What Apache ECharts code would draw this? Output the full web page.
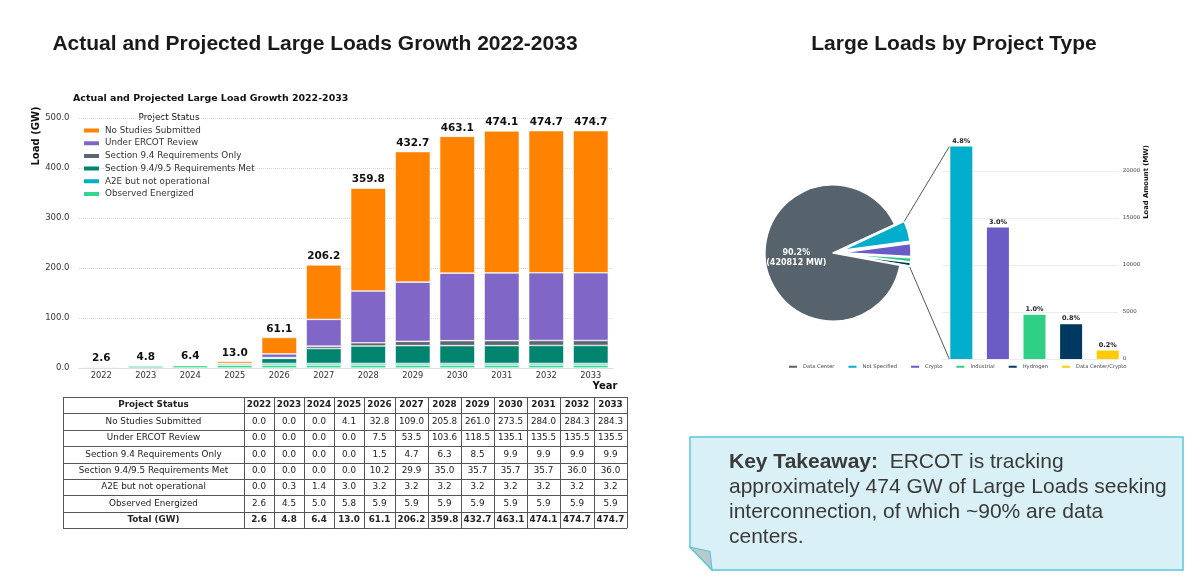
<!DOCTYPE html>
<html>
<head>
<meta charset="utf-8">
<script src="https://cdn.jsdelivr.net/npm/echarts@6/dist/echarts.min.js"></script>
<style>
html,body{margin:0;padding:0;background:#fff}
#main{width:1200px;height:582px}
</style>
</head>
<body>
<div id="main"></div>
<script>
// ---- data: large load growth by project status (GW) ----
var years = ['2022','2023','2024','2025','2026','2027','2028','2029','2030','2031','2032','2033'];
var statusNames = ['No Studies Submitted','Under ERCOT Review','Section 9.4 Requirements Only',
  'Section 9.4/9.5 Requirements Met','A2E but not operational','Observed Energized'];
var noStudies   = [0.0,0.0,0.0,4.1,32.8,109.0,205.8,261.0,273.5,284.0,284.3,284.3];
var underReview = [0.0,0.0,0.0,0.0,7.5,53.5,103.6,118.5,135.1,135.5,135.5,135.5];
var sec94       = [0.0,0.0,0.0,0.0,1.5,4.7,6.3,8.5,9.9,9.9,9.9,9.9];
var sec945      = [0.0,0.0,0.0,0.0,10.2,29.9,35.0,35.7,35.7,35.7,36.0,36.0];
var a2e         = [0.0,0.3,1.4,3.0,3.2,3.2,3.2,3.2,3.2,3.2,3.2,3.2];
var energized   = [2.6,4.5,5.0,5.8,5.9,5.9,5.9,5.9,5.9,5.9,5.9,5.9];
var totals      = [2.6,4.8,6.4,13.0,61.1,206.2,359.8,432.7,463.1,474.1,474.7,474.7];

// ---- data: large loads by project type (MW) ----
var typeNames = ['Data Center','Not Specified','Crypto','Industrial','Hydrogen','Data Center/Crypto'];
var typeMW    = [420812, 22600, 14000, 4700, 3700, 900];

// styles
var statusColors = ['#FF8200','#7F66C7','#5B6770','#00836F','#00AEC7','#34D68C'];
var typeColors   = ['#56636C','#00AECB','#6B5BC6','#2ECF84','#00395F','#FFCC00'];
var statusData = [noStudies, underReview, sec94, sec945, a2e, energized];
var typeTotal = typeMW.reduce(function (a, b) { return a + b; }, 0);
function pct(v) { return (v / typeTotal * 100).toFixed(1) + '%'; }

var chart = echarts.init(document.getElementById('main'));

// stacked bars, bottom segment first
var series = [];
for (var i = statusNames.length - 1; i >= 0; i--) {
  series.push({
    name: statusNames[i], type: 'bar', stack: 'load',
    xAxisIndex: 0, yAxisIndex: 0, barCategoryGap: '21%',
    data: statusData[i],
    itemStyle: { color: statusColors[i], borderColor: '#fff', borderWidth: 0.6 },
    emphasis: { disabled: true },
    label: i === 0 ? {
      show: true, position: 'top', distance: 3,
      formatter: function (p) { return totals[p.dataIndex].toFixed(1); },
      fontFamily: 'DejaVu Sans', fontWeight: 'bold', fontSize: 10.5, color: '#111'
    } : { show: false }
  });
}

// pie: small types first so they sit on the right, exploded
var pieOrder = [1, 2, 3, 4, 5, 0];
var pieStart = 25, pieCenter = [833, 253], pieR = 68, pieOff = 10;
series.push({
  type: 'pie', center: pieCenter, radius: pieR, startAngle: pieStart, clockwise: true,
  selectedMode: 'multiple', selectedOffset: pieOff, avoidLabelOverlap: false,
  emphasis: { disabled: true },
  itemStyle: { borderColor: '#fff', borderWidth: 1.4 },
  select: { itemStyle: { borderColor: '#fff', borderWidth: 1.4 } },
  label: { show: false }, labelLine: { show: false },
  data: pieOrder.map(function (k) {
    var d = { name: typeNames[k], value: typeMW[k], itemStyle: { color: typeColors[k] } };
    if (k === 0) {
      d.label = {
        show: true, position: 'inside', color: '#fff', fontFamily: 'DejaVu Sans',
        fontWeight: 'bold', fontSize: 8, lineHeight: 9.5,
        formatter: function (p) { return pct(p.value) + '\n(' + p.value + ' MW)'; }
      };
    } else {
      d.selected = true;
    }
    return d;
  })
});

// bars of the small types
series.push({
  type: 'bar', xAxisIndex: 1, yAxisIndex: 1, barWidth: 22,
  emphasis: { disabled: true },
  data: typeNames.slice(1).map(function (n, j) {
    return { name: n, value: [j, typeMW[j + 1]], itemStyle: { color: typeColors[j + 1] } };
  }),
  label: {
    show: true, position: 'top', distance: 2, fontFamily: 'DejaVu Sans',
    fontWeight: 'bold', fontSize: 6.5, color: '#222',
    formatter: function (p) { return pct(p.value[1]); }
  }
});

// ---- table ----
var colW = [181,30,30,30,30,31,33,33,33,33,33,34,33];
var tX0 = 63, tY0 = 397, rowH = 16.4;
var tableRows = [['Project Status'].concat(years)];
statusNames.forEach(function (n, r) {
  tableRows.push([n].concat(statusData[r].map(function (v) { return v.toFixed(1); })));
});
tableRows.push(['Total (GW)'].concat(totals.map(function (v) { return v.toFixed(1); })));

var graphics = [];
var colX = [tX0];
colW.forEach(function (w) { colX.push(colX[colX.length - 1] + w); });
var tBottom = tY0 + rowH * tableRows.length;
tableRows.forEach(function (row, r) {
  row.forEach(function (cell, c) {
    var bold = (r === 0 || r === tableRows.length - 1);
    graphics.push({
      type: 'text', silent: true,
      x: (colX[c] + colX[c + 1]) / 2, y: tY0 + rowH * (r + 0.5),
      style: {
        text: cell, fill: '#222', fontFamily: 'DejaVu Sans', fontSize: 8.8,
        fontWeight: bold ? 'bold' : 'normal',
        textAlign: 'center', align: 'center', textVerticalAlign: 'middle', verticalAlign: 'middle'
      }
    });
  });
});
for (var r = 0; r <= tableRows.length; r++) {
  var yy = Math.round(tY0 + rowH * r) + 0.5;
  graphics.push({ type: 'line', silent: true, shape: { x1: colX[0], y1: yy, x2: colX[colX.length - 1], y2: yy },
    style: { stroke: '#555', lineWidth: 1 } });
}
colX.forEach(function (x) {
  var xx = Math.round(x) + 0.5;
  graphics.push({ type: 'line', silent: true, shape: { x1: xx, y1: tY0, x2: xx, y2: tBottom },
    style: { stroke: '#555', lineWidth: 1 } });
});

// axis names / legend title
function txt(t, x, y, size, weight, extra) {
  var e = { type: 'text', silent: true, x: x, y: y,
    style: { text: t, fill: '#111', fontFamily: 'DejaVu Sans', fontSize: size, fontWeight: weight,
      textAlign: 'center', align: 'center', textVerticalAlign: 'middle', verticalAlign: 'middle' } };
  if (extra) for (var k in extra) e[k] = extra[k];
  return e;
}
graphics.push(txt('Load (GW)', 36, 136, 10, 'bold', { rotation: Math.PI / 2 }));
graphics.push(txt('Year', 605, 386.5, 10, 'bold'));
graphics.push(txt('Project Status', 169, 117.7, 8.8, 'normal'));
graphics.push(txt('Load Amount (MW)', 1146, 182, 6.8, 'bold', { rotation: Math.PI / 2 }));

// key takeaway box
graphics.push({
  type: 'polygon', silent: true,
  shape: { points: [[690, 437], [1183, 437], [1183, 570], [712, 570], [690, 547]] },
  style: { fill: '#D9F0F6', stroke: '#5BC6D8', lineWidth: 1.5 }
});
graphics.push({
  type: 'polygon', silent: true,
  shape: { points: [[690, 547], [710, 551.5], [712, 570]] },
  style: { fill: '#B9C9CE', stroke: '#5BC6D8', lineWidth: 1.2 }
});
graphics.push({
  type: 'text', silent: true, x: 729, y: 450,
  style: {
    text: '{b|Key Takeaway:}  ERCOT is tracking\napproximately 474 GW of Large Loads seeking\ninterconnection, of which ~90% are data\ncenters.',
    fill: '#3a3a3a', fontFamily: 'Liberation Sans', fontSize: 21, lineHeight: 25,
    textVerticalAlign: 'top', verticalAlign: 'top',
    rich: { b: { fontFamily: 'Liberation Sans', fontSize: 21, fontWeight: 'bold', lineHeight: 25, fill: '#3a3a3a' } }
  }
});

chart.setOption({
  animation: false,
  title: [
    { text: 'Actual and Projected Large Loads Growth 2022-2033', left: 315, top: 33, textAlign: 'center', padding: 0,
      textStyle: { fontFamily: 'Liberation Sans', fontSize: 21, fontWeight: 'bold', color: '#1a1a1a', lineHeight: 22 } },
    { text: 'Large Loads by Project Type', left: 954, top: 33, textAlign: 'center', padding: 0,
      textStyle: { fontFamily: 'Liberation Sans', fontSize: 21, fontWeight: 'bold', color: '#1a1a1a', lineHeight: 22 } },
    { text: 'Actual and Projected Large Load Growth 2022-2033', left: 73, top: 94, padding: 0,
      textStyle: { fontFamily: 'DejaVu Sans', fontSize: 9.45, fontWeight: 'bold', color: '#111', lineHeight: 10 } }
  ],
  legend: [
    { data: statusNames, orient: 'vertical', left: 82, top: 125.5, padding: 0, icon: 'rect',
      itemWidth: 17, itemHeight: 6, itemGap: 2.7, selectedMode: false,
      textStyle: { fontFamily: 'DejaVu Sans', fontSize: 8.8, color: '#333', lineHeight: 10 } },
    { data: typeNames, orient: 'horizontal', left: 787, top: 363.7, padding: 0, icon: 'rect',
      itemWidth: 10, itemHeight: 4, itemGap: 12, selectedMode: false,
      textStyle: { fontFamily: 'DejaVu Sans', fontSize: 5.2, color: '#444', lineHeight: 6 } }
  ],
  grid: [
    { left: 79, width: 534, top: 118, height: 250 },
    { left: 943, width: 175.7, top: 142.8, height: 216.2 }
  ],
  xAxis: [
    { type: 'category', gridIndex: 0, data: years,
      axisLine: { lineStyle: { color: '#ddd' } }, axisTick: { show: false },
      axisLabel: { fontFamily: 'DejaVu Sans', fontSize: 8.3, color: '#333', margin: 4 } },
    { type: 'value', gridIndex: 1, min: -0.5, max: 4.3, show: false, splitLine: { show: false } }
  ],
  yAxis: [
    { type: 'value', gridIndex: 0, min: 0, max: 500, interval: 100,
      axisLine: { show: false }, axisTick: { show: false },
      axisLabel: { fontFamily: 'DejaVu Sans', fontSize: 8.5, color: '#333', margin: 9.5,
        formatter: function (v) { return v.toFixed(1); } },
      splitLine: { lineStyle: { type: 'dotted', color: '#d8d8d8' } } },
    { type: 'value', gridIndex: 1, position: 'right', min: 0, max: 23000, interval: 5000,
      axisLine: { show: false }, axisTick: { show: false },
      axisLabel: { fontFamily: 'DejaVu Sans', fontSize: 5.5, color: '#444', margin: 4, showMaxLabel: false,
        formatter: function (v) { return String(v); } },
      splitLine: { lineStyle: { color: '#ececec' }, showMaxLine: false } }
  ],
  series: series,
  graphic: { elements: graphics }
});

// connector lines between exploded slices and the bar breakdown
function piePoint(angDeg, midDeg) {
  var a = angDeg * Math.PI / 180, m = midDeg * Math.PI / 180;
  return [pieCenter[0] + pieR * Math.cos(a) + pieOff * Math.cos(m),
          pieCenter[1] - pieR * Math.sin(a) - pieOff * Math.sin(m)];
}
var firstSpan = typeMW[1] / typeTotal * 360;
var lastSpan = typeMW[5] / typeTotal * 360;
var smallSpan = (typeTotal - typeMW[0]) / typeTotal * 360;
var pTop = piePoint(pieStart, pieStart - firstSpan / 2);
var pBot = piePoint(pieStart - smallSpan, pieStart - smallSpan + lastSpan / 2);
var bTop = chart.convertToPixel({ xAxisIndex: 1, yAxisIndex: 1 }, [0, typeMW[1]]);
var bBot = chart.convertToPixel({ xAxisIndex: 1, yAxisIndex: 1 }, [0, 0]);
chart.setOption({
  graphic: { elements: [
    { id: 'connTop', type: 'line', silent: true, z: 10,
      shape: { x1: pTop[0], y1: pTop[1], x2: bTop[0] - 12, y2: bTop[1] },
      style: { stroke: '#555', lineWidth: 1 } },
    { id: 'connBot', type: 'line', silent: true, z: 10,
      shape: { x1: pBot[0], y1: pBot[1], x2: bBot[0] - 12, y2: bBot[1] },
      style: { stroke: '#555', lineWidth: 1 } }
  ] }
});
</script>
</body>
</html>
